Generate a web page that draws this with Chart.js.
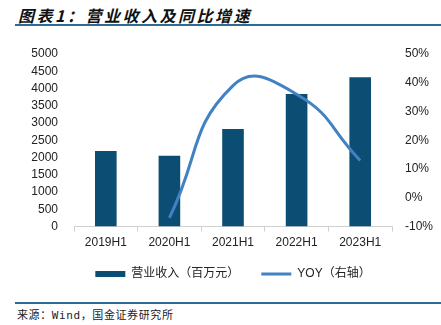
<!DOCTYPE html>
<html lang="zh">
<head>
<meta charset="UTF-8">
<title>营业收入及同比增速</title>
<script src="https://cdn.jsdelivr.net/npm/chart.js"></script>
<style>
    body {
        margin: 0;
        padding: 0;
        background: #fff;
        width: 441px;
        height: 325px;
        overflow: hidden;
        position: relative;
        font-family: "Liberation Sans", "Noto Sans CJK SC", sans-serif;
    }
    .title {
        position: absolute;
        left: 18px;
        top: 3px;
        font-size: 16px;
        font-weight: bold;
        font-style: italic;
        letter-spacing: 2.5px;
        color: #111;
        font-family: "Noto Sans CJK SC", sans-serif;
    }
    .rule {
        position: absolute;
        left: 15px;
        right: 0;
        height: 2px;
        background: #2d6a96;
    }
    .source {
        position: absolute;
        left: 17px;
        top: 306px;
        font-size: 11px;
        letter-spacing: 0.6px;
        color: #222;
        font-family: "DejaVu Sans Mono", "Noto Sans CJK SC", monospace;
    }
    #wrap {
        position: absolute;
        left: 0;
        top: 0;
        width: 441px;
        height: 292px;
    }
</style>
</head>
<body>

<div class="title">图表1：营业收入及同比增速</div>
<div class="rule" style="top:24px"></div>

<div id="wrap"><canvas id="chart"></canvas></div>

<div class="rule" style="top:302px;height:1.5px"></div>
<div class="source">来源：Wind，国金证券研究所</div>

<script>
    // Half-year periods
    const periods = ['2019H1', '2020H1', '2021H1', '2022H1', '2023H1'];
    // Revenue, million yuan
    const revenue = [2190, 2050, 2830, 3840, 4330];
    // Year-on-year growth, % (no value for the first period)
    const yoy = [null, -7, 39, 36, 13];

    const barColor = '#0c4d73';
    const lineColor = '#4281c2';
    const fontFamily = '"Liberation Sans", "Noto Sans CJK SC", sans-serif';

    Chart.defaults.font.family = fontFamily;
    Chart.defaults.font.size = 12;
    Chart.defaults.color = '#222';

    // left padding only pushes the legend centre over the plot area
    const padLeft = 25;

    new Chart(document.getElementById('chart'), {
        data: {
            labels: periods,
            datasets: [
                {
                    type: 'line',
                    label: 'YOY（右轴）',
                    data: yoy,
                    yAxisID: 'y1',
                    borderColor: lineColor,
                    borderWidth: 3,
                    tension: 0.5,
                    pointRadius: 0,
                    fill: false,
                    order: 0
                },
                {
                    type: 'bar',
                    label: '营业收入（百万元）',
                    data: revenue,
                    yAxisID: 'y',
                    backgroundColor: barColor,
                    borderWidth: 0,
                    barPercentage: 0.34,
                    categoryPercentage: 1,
                    order: 1
                }
            ]
        },
        options: {
            responsive: true,
            maintainAspectRatio: false,
            animation: false,
            layout: { padding: { top: 54, right: 0, bottom: 2, left: padLeft } },
            plugins: {
                tooltip: { enabled: false },
                legend: {
                    position: 'bottom',
                    reverse: true,
                    labels: {
                        usePointStyle: true,
                        pointStyleWidth: 30,
                        boxHeight: 6,
                        padding: 22,
                        color: '#222',
                        font: { size: 12 },
                        generateLabels: chart => chart.data.datasets.map((ds, i) => ({
                            text: ds.label,
                            datasetIndex: i,
                            pointStyle: ds.type === 'line' ? 'line' : 'rect',
                            fillStyle: ds.type === 'line' ? lineColor : barColor,
                            strokeStyle: ds.type === 'line' ? lineColor : barColor,
                            lineWidth: ds.type === 'line' ? 3 : 0,
                            fontColor: '#222'
                        }))
                    }
                }
            },
            scales: {
                x: {
                    offset: true,
                    grid: {
                        display: true,
                        offset: true,
                        drawOnChartArea: false,
                        drawTicks: true,
                        tickLength: 5,
                        color: '#d0d0d0'
                    },
                    border: { color: '#d0d0d0' },
                    ticks: { padding: 4, color: '#222', font: { size: 12 } },
                    afterFit: s => { s.height -= 8; }
                },
                y: {
                    position: 'left',
                    min: 0,
                    max: 5000,
                    grid: { display: false },
                    border: { display: false },
                    ticks: {
                        stepSize: 500,
                        autoSkip: false,
                        padding: 8,
                        color: '#222',
                        callback: v => String(v)
                    },
                    afterFit: s => { s.width = 74 - padLeft; }
                },
                y1: {
                    position: 'right',
                    min: -10,
                    max: 50,
                    grid: { display: false },
                    border: { display: false },
                    ticks: {
                        stepSize: 10,
                        autoSkip: false,
                        padding: 5,
                        color: '#222',
                        callback: v => v + '%'
                    },
                    afterFit: s => { s.width = 49; }
                }
            }
        }
    });
</script>
</body>
</html>
